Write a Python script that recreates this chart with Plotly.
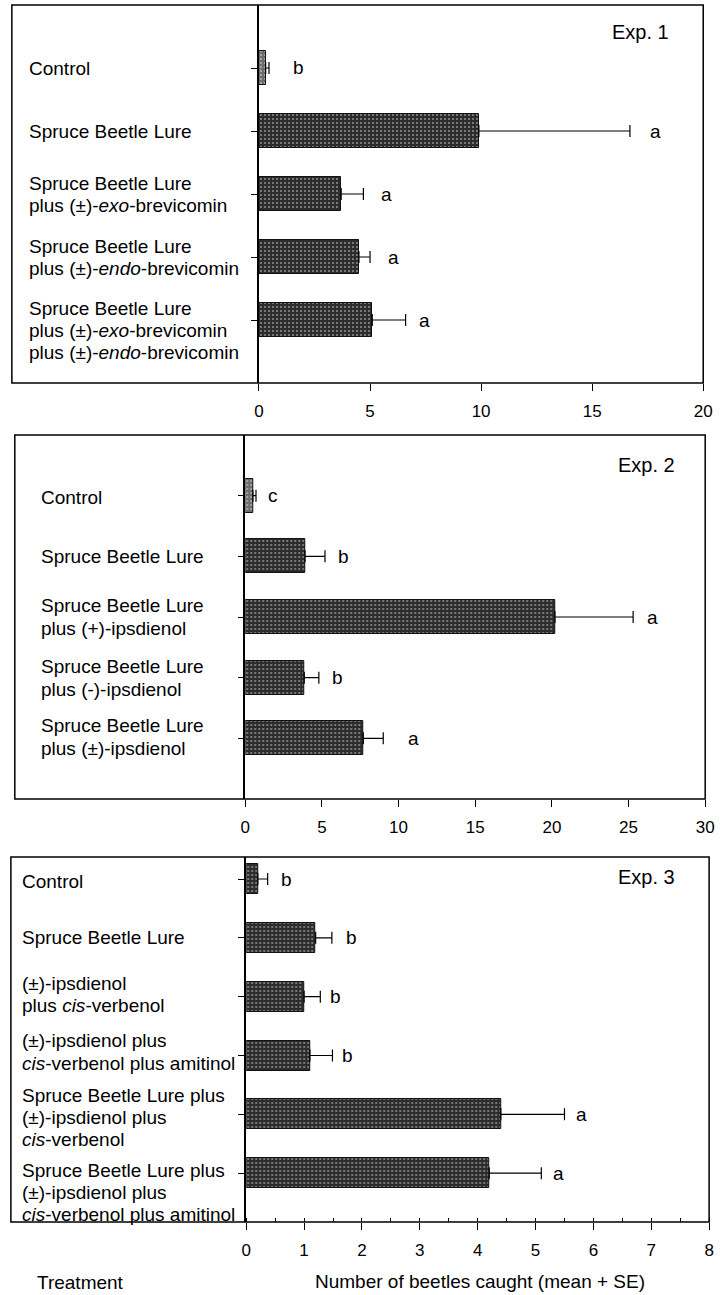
import plotly.graph_objects as go

W, H = 724, 1295
FONT = "Liberation Sans, Arial, sans-serif"

# ---------------- data ----------------
exp1_labels = [
    ["Control"],
    ["Spruce Beetle Lure"],
    ["Spruce Beetle Lure", "plus (±)-<i>exo</i>-brevicomin"],
    ["Spruce Beetle Lure", "plus (±)-<i>endo</i>-brevicomin"],
    ["Spruce Beetle Lure", "plus (±)-<i>exo</i>-brevicomin", "plus (±)-<i>endo</i>-brevicomin"],
]
exp1_mean = [0.3, 9.9, 3.7, 4.5, 5.1]
exp1_se = [0.15, 6.8, 1.0, 0.5, 1.5]
exp1_letters = ["b", "a", "a", "a", "a"]

exp2_labels = [
    ["Control"],
    ["Spruce Beetle Lure"],
    ["Spruce Beetle Lure", "plus (+)-ipsdienol"],
    ["Spruce Beetle Lure", "plus (-)-ipsdienol"],
    ["Spruce Beetle Lure", "plus (±)-ipsdienol"],
]
exp2_mean = [0.5, 3.9, 20.2, 3.85, 7.7]
exp2_se = [0.2, 1.3, 5.1, 0.95, 1.3]
exp2_letters = ["c", "b", "a", "b", "a"]

exp3_labels = [
    ["Control"],
    ["Spruce Beetle Lure"],
    ["(±)-ipsdienol", "plus <i>cis</i>-verbenol"],
    ["(±)-ipsdienol plus", "<i>cis</i>-verbenol plus amitinol"],
    ["Spruce Beetle Lure plus", "(±)-ipsdienol plus", "<i>cis</i>-verbenol"],
    ["Spruce Beetle Lure plus", "(±)-ipsdienol plus", "<i>cis</i>-verbenol plus amitinol"],
]
exp3_mean = [0.2, 1.2, 1.0, 1.1, 4.4, 4.2]
exp3_se = [0.17, 0.28, 0.28, 0.39, 1.1, 0.9]
exp3_letters = ["b", "b", "b", "b", "a", "a"]

x_title = "Number of beetles caught (mean + SE)"
y_title = "Treatment"

# ---------------- layout geometry (pixels) ----------------
panels = [
    dict(labels=exp1_labels, mean=exp1_mean, se=exp1_se, letters=exp1_letters, name="Exp. 1",
         box_left=7, x0=259, x1=712, top=5, bottom=383, yr=[5, -1], xmax=20, dtick=5,
         label_x=22, bw=0.54, exp_xy=(648, 32),
         line_off=[[1], [0], [-11, 11], [-11, 11], [-12, 10.5, 32.5]],
         letter_dx=[30, 26, 23, 23, 19], light=[0], minor=None),
    dict(labels=exp2_labels, mean=exp2_mean, se=exp2_se, letters=exp2_letters, name="Exp. 2",
         box_left=10, x0=245, x1=714, top=435, bottom=799, yr=[5, -1], xmax=30, dtick=5,
         label_x=35, bw=0.56, exp_xy=(654, 465),
         line_off=[[1.5], [0], [-11.5, 11.5], [-11, 11.5], [-12.5, 10.5]],
         letter_dx=[17, 19, 19, 19, 30], light=[0], minor=None),
    dict(labels=exp3_labels, mean=exp3_mean, se=exp3_se, letters=exp3_letters, name="Exp. 3",
         box_left=6, x0=246, x1=718, top=857, bottom=1222, yr=[5.83, -0.374], xmax=8, dtick=1,
         label_x=15, bw=0.51, exp_xy=(654, 877),
         line_off=[[2], [0], [-13, 8.5], [-15, 7.5], [-19, 3, 25], [-3, 19, 41]],
         letter_dx=[19, 20, 15, 15.5, 17.5, 17.5], light=[], minor=0.5),
]

fig = go.Figure()
annotations = []
shapes = []

for i, p in enumerate(panels, start=1):
    n = len(p["mean"])
    xa, ya = f"x{i}", f"y{i}"
    dark = "#2c2c2c"
    colors = ["#6e6e6e" if k in p["light"] else dark for k in range(n)]
    fgs = ["#d0d0d0" if k in p["light"] else "#8c8c8c" for k in range(n)]
    fig.add_trace(go.Bar(
        y=list(range(n)), x=p["mean"], orientation="h", width=p["bw"],
        marker=dict(color=colors, line=dict(color="#111111", width=1),
                    pattern=dict(shape=".", fgcolor=fgs, size=4, solidity=0.18, fillmode="overlay")),
        error_x=dict(type="data", array=p["se"], arrayminus=[0] * n, symmetric=False,
                     color="black", thickness=1.2, width=6),
        xaxis=xa, yaxis=ya, showlegend=False, hoverinfo="skip",
    ))
    xkey = "xaxis" if i == 1 else f"xaxis{i}"
    ykey = "yaxis" if i == 1 else f"yaxis{i}"
    xaxis = dict(domain=[p["x0"] / W, p["x1"] / W], range=[0, p["xmax"]], dtick=p["dtick"], tick0=0,
                 anchor=ya, showgrid=False, zeroline=False, showline=False,
                 ticks="outside", ticklen=7, tickwidth=1.2, tickcolor="black",
                 ticklabelstandoff=6,
                 tickfont=dict(family=FONT, size=17, color="black"), fixedrange=True)
    if p["minor"]:
        xaxis["minor"] = dict(dtick=p["minor"], ticks="inside", ticklen=4, tickwidth=1, tickcolor="black", showgrid=False)
    fig.update_layout(**{xkey: xaxis})
    fig.update_layout(**{ykey: dict(domain=[1 - p["bottom"] / H, 1 - p["top"] / H], range=p["yr"],
                                    anchor=xa, showgrid=False, zeroline=False,
                                    showline=True, linecolor="black", linewidth=1.5,
                                    tickvals=list(range(n)), showticklabels=False,
                                    ticks="outside", ticklen=6, tickwidth=1, tickcolor="black",
                                    fixedrange=True)})
    # panel frame
    shapes.append(dict(type="rect", xref="paper", yref="paper",
                       x0=p["box_left"] / W, x1=p["x1"] / W,
                       y0=1 - p["bottom"] / H, y1=1 - p["top"] / H,
                       line=dict(color="black", width=1.5), fillcolor="rgba(0,0,0,0)", layer="above"))
    # treatment labels
    for k, lines in enumerate(p["labels"]):
        for line, off in zip(lines, p["line_off"][k]):
            annotations.append(dict(xref="paper", x=p["label_x"] / W, yref=ya, y=k, yshift=-off,
                                    text=line, showarrow=False, xanchor="left", yanchor="middle",
                                    font=dict(family=FONT, size=19, color="black")))
    # significance letters
    for k, (m, s, letter) in enumerate(zip(p["mean"], p["se"], p["letters"])):
        annotations.append(dict(xref=xa, x=m + s, xshift=p["letter_dx"][k], yref=ya, y=k,
                                text=letter, showarrow=False, xanchor="center", yanchor="middle",
                                font=dict(family=FONT, size=19, color="black")))
    # experiment name
    annotations.append(dict(xref="paper", yref="paper", x=p["exp_xy"][0] / W, y=1 - p["exp_xy"][1] / H,
                            text=p["name"], showarrow=False, xanchor="center", yanchor="middle",
                            font=dict(family=FONT, size=20, color="black")))

annotations.append(dict(xref="paper", yref="paper", x=31 / W, y=1 - 1282 / H, text=y_title,
                        showarrow=False, xanchor="left", yanchor="middle",
                        font=dict(family=FONT, size=19, color="black")))
annotations.append(dict(xref="paper", yref="paper", x=484 / W, y=1 - 1281 / H, text=x_title,
                        showarrow=False, xanchor="center", yanchor="middle",
                        font=dict(family=FONT, size=19, color="black")))

fig.update_layout(width=W, height=H, margin=dict(l=0, r=0, t=0, b=0),
                  paper_bgcolor="white", plot_bgcolor="white",
                  annotations=annotations, shapes=shapes, bargap=0,
                  font=dict(family=FONT, color="black"))

fig.write_html("out.html", config={"displayModeBar": False},
               post_script="document.body.style.margin='0';document.body.style.padding='0';"
                           "document.documentElement.style.overflow='hidden';")
